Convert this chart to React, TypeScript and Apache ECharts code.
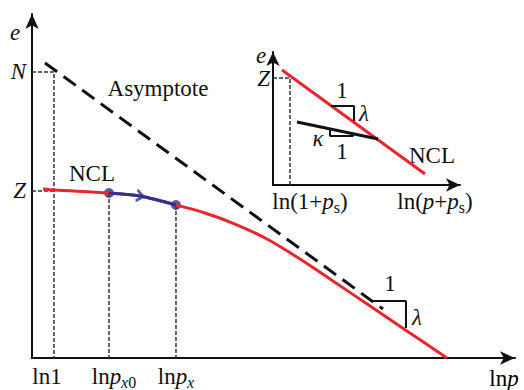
import { useEffect, useRef } from "react";
import * as echarts from "echarts";

const SERIF = '"Liberation Serif", "Times New Roman", serif';
const RED = "#e8262d";
const BLUE = "#2e3192";
const INK = "#111111";

// ---------- main diagram: x = ln p, y = e (arbitrary units, 0..10) ----------
const mainTickX = [0.455, 1.594, 2.981]; // ln1, ln p_x0, ln p_x
const mainTickLabels = ["{a1|ln1}", "{a0|ln}{i|p}{si|x}{s|0}", "{a|ln}{i|p}{si|x}"];
const levelN = 8.314;
const levelZ = 4.855;
const yTickValues = [levelN, levelZ];
const yTickLabels = ["N", "Z"];

const nclX = [0.228, 0.455, 1.594, 2.236, 2.981, 3.582, 4.203, 4.865, 5.549, 6.17, 6.977, 7.785, 8.592];
const nclY = [4.913, 4.884, 4.797, 4.709, 4.448, 4.215, 3.895, 3.459, 2.878, 2.297, 1.532, 0.765, 0];

const pathX = [1.594, 2.236, 2.981];
const pathY = [4.797, 4.709, 4.448];

const asymX = [0.269, 7.267];
const asymY = [8.576, 1.424];

const slopeX = [7.039, 7.743, 7.743];
const slopeY = [1.657, 1.657, 0.872];

// ---------- inset: x = ln(p+ps), y = e ----------
const insetTickX = [0.909, 8.663];
const insetTickLabels = ["{b0|ln(1+}{i|p}{s|s}{a|)}", "{a|ln(}{i|p}{a|+}{i|p}{s|s}{a|)}"];
const insetZ = 8.045;

const insetNclX = [0.481, 8.128];
const insetNclY = [8.647, 0.827];
const urlX = [1.283, 5.615];
const urlY = [4.737, 3.459];
const lamX = [3.102, 4.332, 4.332];
const lamY = [5.94, 5.94, 4.812];
const kapX = [3.048, 3.048, 4.278, 4.278];
const kapY = [4.211, 3.684, 3.684, 3.835];

const zip = (xs: number[], ys: number[]) => xs.map((x, i) => [x, ys[i]]);

const richBase = {
  a: { fontFamily: SERIF, fontSize: 23, color: INK, lineHeight: 30 },
  a1: { fontFamily: SERIF, fontSize: 23, color: INK, lineHeight: 30, padding: [0, 14, 0, 0] },
  a0: { fontFamily: SERIF, fontSize: 23, color: INK, lineHeight: 30, padding: [0, 0, 0, 10] },
  b0: { fontFamily: SERIF, fontSize: 23, color: INK, lineHeight: 30, padding: [0, 0, 0, 40] },
  i: { fontFamily: SERIF, fontSize: 23, fontStyle: "italic", color: INK, lineHeight: 30 },
  si: { fontFamily: SERIF, fontSize: 16, fontStyle: "italic", color: INK, padding: [12, 0, 0, 0] },
  s: { fontFamily: SERIF, fontSize: 16, color: INK, padding: [12, 0, 0, 0] },
};

const pickLabel = (values: number[], labels: string[]) => (v: number) => {
  let best = 0;
  values.forEach((t, i) => {
    if (Math.abs(t - v) < Math.abs(values[best] - v)) best = i;
  });
  return labels[best];
};

const axisLineStyle = { color: INK, width: 2 };

const txt = (x: number, y: number, text: string, italic = false, size = 23) => ({
  type: "text",
  x,
  y,
  style: {
    text,
    font: `${italic ? "italic " : ""}${size}px ${SERIF}`,
    fill: INK,
    textAlign: "center",
    textVerticalAlign: "middle",
  },
});

export default function App() {
  const ref = useRef<HTMLDivElement>(null);

  useEffect(() => {
    if (!ref.current) return;
    const chart = echarts.init(ref.current, null, { renderer: "svg" });

    const dashed = { color: "#333", width: 1.5, type: [4, 2] };

    chart.setOption({
      animation: false,
      backgroundColor: "#ffffff",
      grid: [
        { left: 32, top: 14, width: 483, height: 344, outerBoundsMode: "none", containLabel: false },
        { left: 273, top: 52, width: 187, height: 133, outerBoundsMode: "none", containLabel: false },
      ],
      xAxis: [
        {
          type: "value",
          gridIndex: 0,
          min: 0,
          max: 10,
          axisLine: { show: true, onZero: false, symbol: ["none", "arrow"], symbolSize: [10, 15], lineStyle: axisLineStyle },
          axisTick: { show: false },
          splitLine: { show: false },
          axisLabel: {
            show: true,
            customValues: mainTickX,
            margin: 3,
            formatter: pickLabel(mainTickX, mainTickLabels),
            rich: richBase,
          },
        },
        {
          type: "value",
          gridIndex: 1,
          min: 0,
          max: 10,
          axisLine: { show: true, onZero: false, symbol: ["none", "arrow"], symbolSize: [10, 14], lineStyle: axisLineStyle },
          axisTick: { show: false },
          splitLine: { show: false },
          axisLabel: {
            show: true,
            customValues: insetTickX,
            margin: 1,
            formatter: pickLabel(insetTickX, insetTickLabels),
            rich: richBase,
          },
        },
      ],
      yAxis: [
        {
          type: "value",
          gridIndex: 0,
          min: 0,
          max: 10,
          axisLine: { show: true, onZero: false, symbol: ["none", "arrow"], symbolSize: [10, 15], lineStyle: axisLineStyle },
          axisTick: { show: false },
          splitLine: { show: false },
          axisLabel: {
            show: true,
            customValues: yTickValues,
            margin: 6,
            formatter: pickLabel(yTickValues, yTickLabels),
            fontFamily: SERIF,
            fontSize: 23,
            fontStyle: "italic",
            color: INK,
          },
        },
        {
          type: "value",
          gridIndex: 1,
          min: 0,
          max: 10,
          axisLine: { show: true, onZero: false, symbol: ["none", "arrow"], symbolSize: [10, 14], lineStyle: axisLineStyle },
          axisTick: { show: false },
          splitLine: { show: false },
          axisLabel: {
            show: true,
            customValues: [insetZ],
            margin: 3,
            formatter: () => "Z",
            fontFamily: SERIF,
            fontSize: 23,
            fontStyle: "italic",
            color: INK,
          },
        },
      ],
      series: [
        // guide lines (main)
        { type: "line", xAxisIndex: 0, yAxisIndex: 0, symbol: "none", lineStyle: dashed, data: [[0, levelN], [mainTickX[0], levelN], [mainTickX[0], 0]] },
        { type: "line", xAxisIndex: 0, yAxisIndex: 0, symbol: "none", lineStyle: dashed, data: [[0, levelZ], [mainTickX[0], levelZ]] },
        { type: "line", xAxisIndex: 0, yAxisIndex: 0, symbol: "none", lineStyle: dashed, data: [[mainTickX[1], pathY[0]], [mainTickX[1], 0]] },
        { type: "line", xAxisIndex: 0, yAxisIndex: 0, symbol: "none", lineStyle: dashed, data: [[mainTickX[2], pathY[2]], [mainTickX[2], 0]] },
        // asymptote
        { type: "line", xAxisIndex: 0, yAxisIndex: 0, symbol: "none", lineStyle: { color: INK, width: 3, type: [15, 8] }, data: zip(asymX, asymY) },
        // NCL curve
        { type: "line", xAxisIndex: 0, yAxisIndex: 0, symbol: "none", smooth: 0.3, lineStyle: { color: RED, width: 3 }, data: zip(nclX, nclY) },
        // slope triangle
        { type: "line", xAxisIndex: 0, yAxisIndex: 0, symbol: "none", lineStyle: { color: INK, width: 2 }, data: zip(slopeX, slopeY) },
        // loading path
        { type: "line", xAxisIndex: 0, yAxisIndex: 0, symbol: "none", smooth: 0.3, lineStyle: { color: BLUE, width: 3 }, data: zip(pathX, pathY) },
        {
          type: "scatter", xAxisIndex: 0, yAxisIndex: 0, symbol: "circle", symbolSize: 10,
          itemStyle: { color: BLUE },
          data: [[pathX[0], pathY[0]], [pathX[pathX.length - 1], pathY[pathY.length - 1]]],
        },
        {
          type: "scatter", xAxisIndex: 0, yAxisIndex: 0,
          symbol: "path://M0,0L8,6L0,12", symbolSize: [7, 11], symbolRotate: -10,
          itemStyle: { color: "none", borderColor: BLUE, borderWidth: 2.5 },
          data: [[pathX[1], pathY[1]]],
        },
        // inset
        { type: "line", xAxisIndex: 1, yAxisIndex: 1, symbol: "none", lineStyle: dashed, data: [[0, insetZ], [insetTickX[0], insetZ], [insetTickX[0], 0]] },
        { type: "line", xAxisIndex: 1, yAxisIndex: 1, symbol: "none", lineStyle: { color: RED, width: 3 }, data: zip(insetNclX, insetNclY) },
        { type: "line", xAxisIndex: 1, yAxisIndex: 1, symbol: "none", lineStyle: { color: INK, width: 3 }, data: zip(urlX, urlY) },
        { type: "line", xAxisIndex: 1, yAxisIndex: 1, symbol: "none", lineStyle: { color: INK, width: 2 }, data: zip(lamX, lamY) },
        { type: "line", xAxisIndex: 1, yAxisIndex: 1, symbol: "none", lineStyle: { color: INK, width: 2 }, data: zip(kapX, kapY) },
      ],
      graphic: [
        txt(15, 32, "e", true),
        txt(158, 88, "Asymptote"),
        txt(92, 173, "NCL"),
        txt(390, 283, "1"),
        txt(417, 317, "λ", true),
        {
          type: "text",
          x: 504,
          y: 378,
          style: {
            text: "{a|ln}{i|p}",
            rich: richBase,
            textAlign: "center",
            textVerticalAlign: "middle",
          },
        },
        txt(261, 55, "e", true),
        txt(342, 90, "1"),
        txt(364, 113, "λ", true),
        txt(318, 138, "κ", true),
        txt(342, 151, "1"),
        txt(432, 155, "NCL"),
      ],
    });

    return () => chart.dispose();
  }, []);

  return <div ref={ref} style={{ position: "fixed", left: 0, top: 0, width: 524, height: 390 }} />;
}
